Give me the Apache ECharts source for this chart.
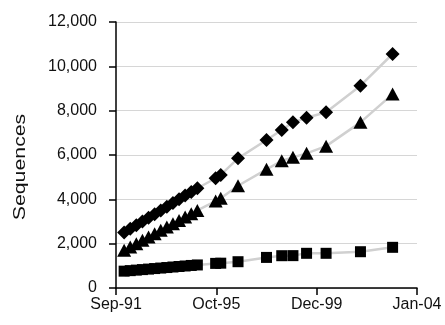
<!DOCTYPE html>
<html>
<head>
<meta charset="utf-8">
<script src="https://cdn.jsdelivr.net/npm/echarts@6/dist/echarts.min.js"></script>
<style>
html,body{margin:0;padding:0;background:#fff;}
#chart{width:445px;height:325px;}
</style>
</head>
<body>
<div id="chart"></div>
<script>
// x positions: months after Sep-1991
var months = [4, 7, 10, 13, 16, 19, 22, 25, 28, 31, 34, 37, 40, 49, 51.5, 60, 74, 81.5, 87, 93.7, 103.3, 120.2, 136];
var diamondSeries = [2500, 2670, 2830, 3000, 3170, 3330, 3500, 3670, 3830, 4000, 4170, 4330, 4500, 4950, 5100, 5850, 6675, 7126, 7473, 7680, 7925, 9125, 10557];
var triangleSeries = [1700, 1850, 2000, 2150, 2300, 2450, 2600, 2750, 2900, 3050, 3200, 3350, 3500, 3924, 4045, 4614, 5353, 5741, 5894, 6075, 6400, 7473, 8749];
var squareSeries = [760, 783, 807, 830, 853, 877, 900, 923, 947, 970, 993, 1017, 1040, 1110, 1120, 1186, 1380, 1457, 1460, 1565, 1565, 1637, 1835];
var xTickLabels = ['Sep-91', 'Oct-95', 'Dec-99', 'Jan-04'];
var yAxisTitle = 'Sequences';
var xSpanMonths = 148;

function pairs(vals) {
  return months.map(function (m, i) { return [m, vals[i]]; });
}

var font = 'Liberation Sans, Arial, sans-serif';
var chart = echarts.init(document.getElementById('chart'));
function mk(name, vals, symbol, size) {
  return {
    name: name,
    type: 'line',
    data: pairs(vals),
    symbol: symbol,
    symbolSize: size,
    showAllSymbol: true,
    lineStyle: { color: '#d0d0d0', width: 2.5 },
    itemStyle: { color: '#000000' },
    animation: false
  };
}
chart.setOption({
  animation: false,
  grid: { left: 116, right: 28, top: 22, bottom: 37 },
  graphic: [{
    type: 'text',
    x: 21, y: 167,
    rotation: Math.PI / 2,
    scaleX: 1.33,
    style: {
      text: yAxisTitle, fill: '#111', fontFamily: font, fontSize: 16,
      textAlign: 'center', textVerticalAlign: 'middle'
    }
  }],
  xAxis: {
    type: 'value',
    min: 0,
    max: xSpanMonths,
    interval: xSpanMonths / 3,
    axisLine: { lineStyle: { color: '#000', width: 1.5 } },
    axisTick: { length: 7, lineStyle: { color: '#000', width: 1.5 } },
    splitLine: { show: false },
    axisLabel: {
      color: '#111', fontFamily: font, fontSize: 16, margin: 9,
      formatter: function (v) { return xTickLabels[Math.round(v / (xSpanMonths / 3))]; }
    }
  },
  yAxis: {
    type: 'value',
    min: 0,
    max: 12000,
    interval: 2000,
    axisLine: { show: true, lineStyle: { color: '#000', width: 1.5 } },
    axisTick: { show: true, length: 7, lineStyle: { color: '#000', width: 1.5 } },
    splitLine: { lineStyle: { color: '#d6d6d6', width: 1 } },
    axisLabel: {
      color: '#111', fontFamily: font, fontSize: 16, margin: 19,
      formatter: function (v) { return v.toLocaleString('en-US'); }
    }
  },
  series: [
    mk('diamonds', diamondSeries, 'diamond', 14),
    mk('triangles', triangleSeries, 'triangle', [14, 13]),
    mk('squares', squareSeries, 'rect', 11)
  ]
});
</script>
</body>
</html>
